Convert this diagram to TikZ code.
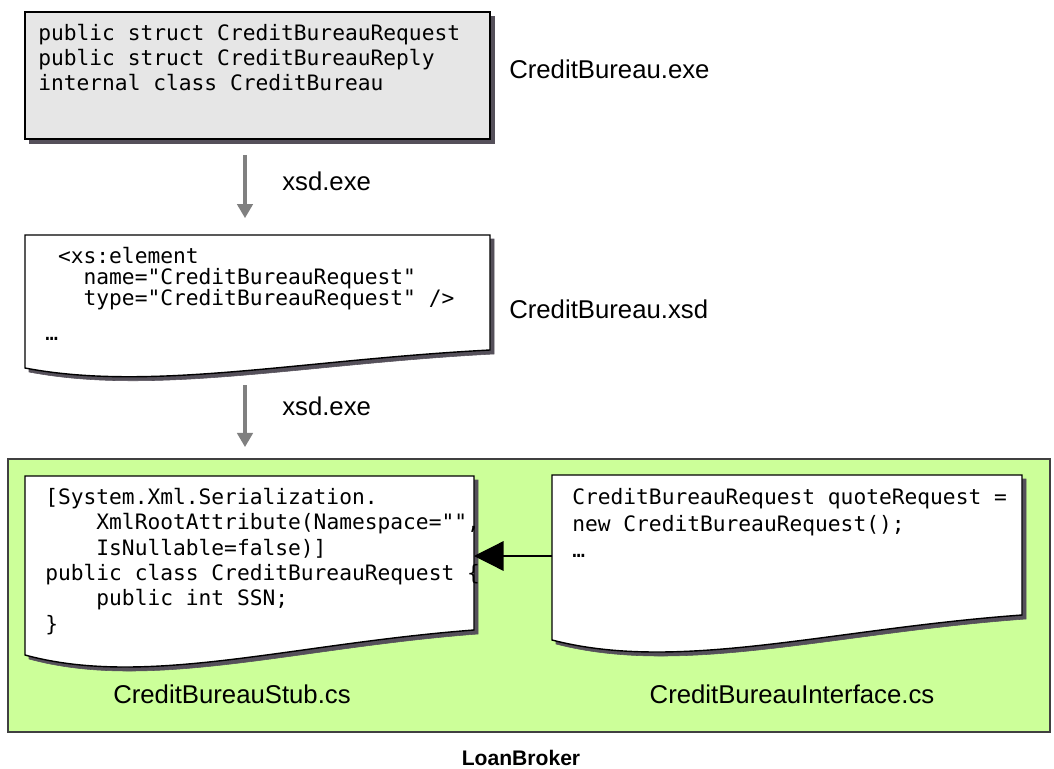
\documentclass[tikz,border=0pt]{standalone}
\usepackage{fontspec}
\setmainfont{Liberation Sans}
\setmonofont{DejaVu Sans Mono}
\usetikzlibrary{arrows.meta}
\definecolor{brokergreen}{RGB}{204,255,153}
\definecolor{exegray}{RGB}{230,230,230}
\definecolor{shadowgray}{RGB}{85,80,90}

\begin{document}
\begin{tikzpicture}[x=0.025cm, y=-0.025cm,
    code/.style={font=\ttfamily\fontsize{15.1}{17.7}\selectfont, align=left, anchor=north west, inner sep=0pt},
    filename/.style={font=\fontsize{18.3}{22}\selectfont, inner sep=0pt},
    paper/.style={draw=black, line width=1pt, fill=white,
        preaction={draw=shadowgray, fill=shadowgray, transform canvas={shift={(4,4)}}}},
    flow/.style={draw=black!50, line width=2.2pt, -{Triangle[length=10pt, width=11pt]}}]
    \useasboundingbox (0,0) rectangle (1054,769);

    % CreditBureau.exe
    \draw[paper, fill=exegray] (25,12) rectangle (490,139);
    \node[code] (execode) at (38,24) {public struct CreditBureauRequest\\public struct CreditBureauReply\\internal class CreditBureau};
    \node[filename, anchor=base west] (exename) at (509,78) {CreditBureau.exe};
    \coordinate (exe-s) at (245,139);

    % CreditBureau.xsd
    \draw[paper] (25,235) -- (490,235) -- (490,350) .. controls (299,360) and (151,392) .. (25,368) -- cycle;
    \node[code, font=\ttfamily\fontsize{15.1}{15}\selectfont] (xsdcode) at (45,247) {~<xs:element\\~~~name="CreditBureauRequest"\\~~~type="CreditBureauRequest" />\\[10pt]…};
    \node[filename, anchor=base west] (xsdname) at (509,318) {CreditBureau.xsd};
    \coordinate (xsd-n) at (245,235);
    \coordinate (xsd-s) at (245,371);

    \draw[flow, shorten <=11.3pt, shorten >=12pt] (exe-s) -- (xsd-n);
    \node[filename, anchor=base west] (tool1) at (282,190) {xsd.exe};

    % LoanBroker
    \draw[fill=brokergreen, draw=black!75, line width=1.3pt] (8,459) rectangle (1050,732);
    \node[font=\bfseries\fontsize{15}{18}\selectfont, anchor=base] (broker) at (521,765) {LoanBroker};
    \coordinate (broker-n) at (245,459);

    \draw[flow, shorten <=10pt, shorten >=8.5pt] (xsd-s) -- (broker-n);
    \node[filename, anchor=base west] (tool2) at (282,415) {xsd.exe};

    \draw[paper] (25,476) -- (474,476) -- (474,630) .. controls (290,644) and (146,688) .. (25,655) -- cycle;
    \node[code, font=\ttfamily\fontsize{15.1}{18}\selectfont] (stubcode) at (45,488) {[System.Xml.Serialization.\\~~~~XmlRootAttribute(Namespace="",\\~~~~IsNullable=false)]\\public class CreditBureauRequest \{\\~~~~public int SSN;\\\}};
    \node[filename, anchor=base] (stubname) at (232,703) {CreditBureauStub.cs};
    \coordinate (stub-e) at (474,556);

    \draw[paper] (552,475) -- (1022,475) -- (1022,615) .. controls (829,629) and (679,673) .. (552,640) -- cycle;
    \node[code, font=\ttfamily\fontsize{15.1}{19}\selectfont] (ifacecode) at (572,488) {CreditBureauRequest quoteRequest =\\new CreditBureauRequest();\\…};
    \node[filename, anchor=base] (ifacename) at (792,703) {CreditBureauInterface.cs};
    \coordinate (iface-w) at (552,556);

    \draw[line width=0.9pt, -{Triangle[length=21pt, width=21pt]}] (iface-w) -- (stub-e);
\end{tikzpicture}
\end{document}
